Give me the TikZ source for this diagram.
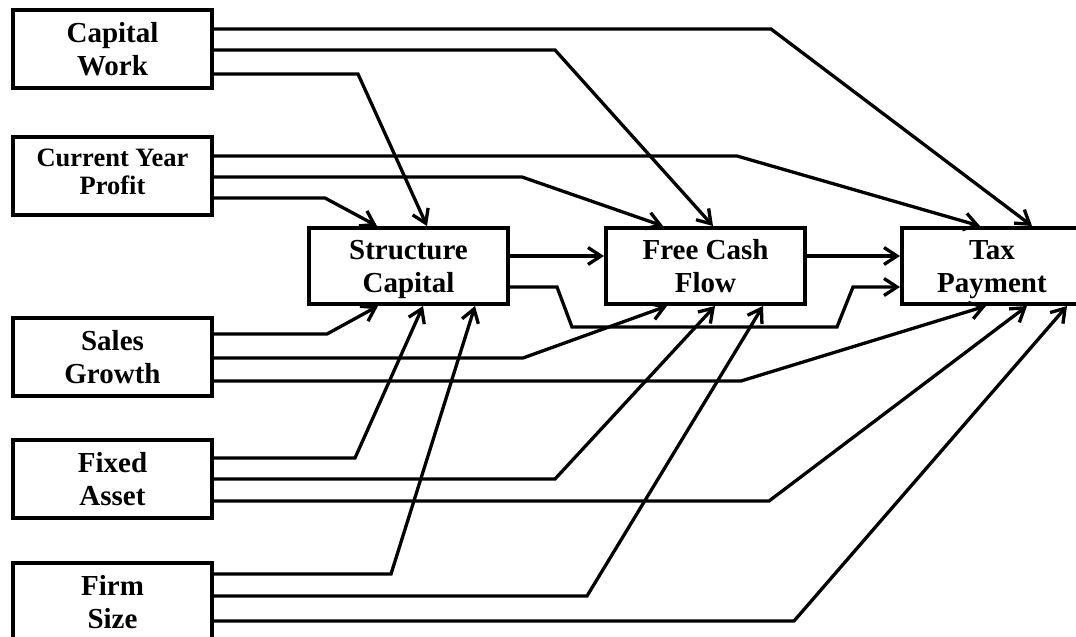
\documentclass[tikz,border=0pt]{standalone}
\usepackage{fontspec}
\setmainfont{Liberation Serif}
\usetikzlibrary{arrows.meta}
\newcommand{\topstrut}{\rule{0pt}{27pt}}
\newcommand{\botstrut}{\rule[-7pt]{0pt}{7pt}}
\tikzset{
  box/.style={draw, line width=4pt, rectangle, minimum width=199pt, minimum height=78pt,
    inner sep=0pt, align=center, font=\bfseries\fontsize{29}{33}\selectfont},
  link/.style={line width=3.3pt, line join=miter, -{Straight Barb[length=13pt,width=17pt,line width=3.3pt]}}
}
\begin{document}
\begin{tikzpicture}[x=1pt,y=-1pt]
\useasboundingbox (0,0) rectangle (1076,637);
\clip (0,0) rectangle (1076,637);
\fill[white] (0,0) rectangle (1076,637);
% nodes
\node[box] (cw)  at (112.5,49)  {\topstrut Capital\\Work\botstrut};
\node[box, font=\bfseries\fontsize{26.5}{28}\selectfont] (cyp) at (112.5,176) {\rule{0pt}{20pt}Current Year\\Profit\rule[-12pt]{0pt}{12pt}};
\node[box] (sg)  at (112.5,357) {\topstrut Sales\\Growth\botstrut};
\node[box] (fa)  at (112.5,479) {\topstrut Fixed\\Asset\botstrut};
\node[box] (fs)  at (112.5,602) {\topstrut Firm\\Size\botstrut};
\node[box, minimum height=76pt] (sc)  at (408.5,266) {\topstrut Structure\\Capital\botstrut};
\node[box, minimum height=76pt] (fcf) at (705.5,266) {\topstrut Free Cash\\Flow\botstrut};
\node[box, minimum height=76pt, minimum width=180pt] (tax) at (992,266) {\topstrut Tax\\Payment\botstrut};
% from Capital Work
\draw[link] (cw.east |- 0,29) -- (771,29) -- (tax.north -| 1032,0);
\draw[link] (cw.east |- 0,50) -- (555,50) -- (fcf.north -| 713,0);
\draw[link] (cw.east |- 0,74) -- (358,74) -- (sc.north -| 427,0);
% from Current Year Profit
\draw[link] (cyp.east |- 0,156) -- (737,156) -- (tax.north -| 980,0);
\draw[link] (cyp.east |- 0,177) -- (522,177) -- (fcf.north -| 663,0);
\draw[link] (cyp.east |- 0,198) -- (325,198) -- (sc.north -| 377,0);
% middle
\draw[link] (sc.east |- 0,256) -- (fcf.west |- 0,256);
\draw[link] (fcf.east |- 0,256) -- (tax.west |- 0,256);
\draw[link] (sc.east |- 0,287) -- (557,287) -- (572,327) -- (837,327) -- (853,287) -- (tax.west |- 0,287);
% from Sales Growth
\draw[link] (sg.east |- 0,334) -- (327,334) -- (sc.south -| 378,0);
\draw[link] (sg.east |- 0,358) -- (523,358) -- (fcf.south -| 667,0);
\draw[link] (sg.east |- 0,381) -- (741,381) -- (tax.south -| 986,0);
% from Fixed Asset
\draw[link] (fa.east |- 0,458) -- (355,458) -- (sc.south -| 423,0);
\draw[link] (fa.east |- 0,479) -- (555,479) -- (fcf.south -| 715,0);
\draw[link] (fa.east |- 0,501) -- (769,501) -- (tax.south -| 1027,0);
% from Firm Size
\draw[link] (fs.east |- 0,574) -- (391,574) -- (sc.south -| 475,0);
\draw[link] (fs.east |- 0,596) -- (587,596) -- (fcf.south -| 763,0);
\draw[link] (fs.east |- 0,621) -- (794,621) -- (tax.south -| 1067,0);
\end{tikzpicture}
\end{document}
